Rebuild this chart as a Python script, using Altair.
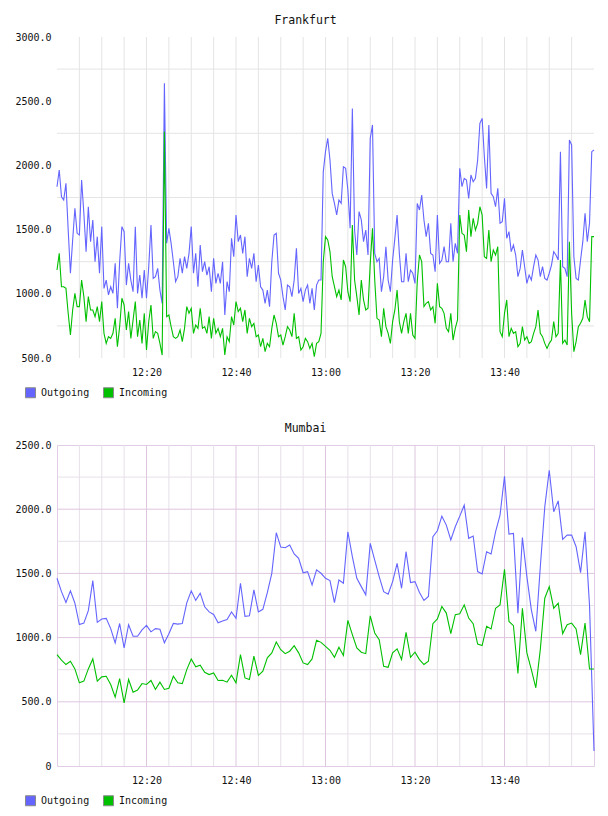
import altair as alt
import pandas as pd

series_names = ["Outgoing", "Incoming"]
series_colors = ["#6464ff", "#00c000"]
panel_titles = ["Frankfurt", "Mumbai"]

# Frankfurt: one sample every 30 s, 12:00 .. 14:00
fra_out = [
    1834, 1964, 1756, 1730, 1860, 1497, 1160, 1419, 1666, 1471,
    1458, 1886, 1627, 1328, 1678, 1406, 1575, 1250, 1445, 1160,
    1523, 1042, 1107, 991, 1055, 1003, 1237, 887, 1250, 1523,
    1484, 1068, 1237, 1107, 1016, 1523, 1003, 1146, 965, 1185,
    965, 1211, 1536, 1120, 1133, 1198, 1029, 926, 2639, 1393,
    1510, 1393, 1250, 1094, 1133, 1276, 1160, 1289, 1198, 1315,
    1523, 1160, 1315, 1055, 1380, 1172, 1250, 1146, 1211, 1016,
    1276, 1081, 1160, 1081, 1250, 835, 1094, 1016, 1432, 1289,
    1614, 1406, 1458, 1315, 1445, 1133, 1276, 1198, 1315, 1094,
    1224, 1055, 1029, 926, 1029, 900, 1250, 1458, 1471, 1160,
    1107, 978, 874, 1068, 1055, 978, 1107, 1354, 1003, 1042,
    939, 1029, 1068, 926, 1042, 874, 1068, 1107, 1107, 1950,
    2107, 2211, 2042, 1782, 1704, 1614, 1730, 1704, 1990, 1977,
    1808, 1510, 2444, 1497, 1302, 1640, 1575, 1406, 1497, 1302,
    2211, 2315, 1315, 1250, 1276, 1016, 1133, 1367, 1107, 1016,
    1263, 1432, 1614, 1315, 1094, 1094, 1315, 1094, 1185, 1160,
    1081, 1704, 1653, 1769, 1575, 1445, 1549, 1315, 1302, 1172,
    1614, 1237, 1263, 1367, 1250, 1250, 1549, 1250, 1393, 1315,
    1977, 1834, 1899, 1886, 1743, 1925, 1873, 1899, 2042, 2328,
    2366, 2068, 1821, 2315, 1782, 1756, 1678, 1821, 1549, 1562,
    1743, 1432, 1484, 1328, 1380, 1302, 1133, 1198, 1341, 1211,
    1081, 1146, 1107, 1211, 1302, 1263, 1133, 1211, 1120, 1107,
    1160, 1224, 1328, 1302, 1263, 2107, 1211, 1198, 1133, 2198,
    2159, 1289, 1120, 1107, 1263, 1406, 1627, 1406, 1549, 2107,
    2120,
]
fra_in = [
    1185, 1315, 1055, 1055, 1042, 848, 679, 874, 1003, 900,
    900, 1107, 978, 783, 978, 874, 874, 822, 900, 783,
    939, 692, 614, 666, 653, 692, 809, 588, 744, 965,
    913, 718, 861, 653, 796, 939, 666, 796, 614, 848,
    562, 783, 913, 653, 705, 692, 614, 523, 2263, 822,
    835, 744, 666, 653, 666, 718, 627, 731, 900, 848,
    887, 692, 757, 731, 887, 731, 744, 692, 822, 653,
    809, 692, 731, 666, 731, 523, 666, 627, 822, 757,
    939, 861, 887, 783, 874, 692, 809, 744, 770, 666,
    679, 588, 653, 549, 614, 588, 731, 835, 770, 666,
    679, 601, 666, 744, 718, 666, 848, 653, 666, 562,
    588, 653, 627, 575, 614, 510, 614, 627, 692, 1250,
    1445, 1419, 1328, 1133, 1055, 978, 1029, 952, 1263, 1211,
    1016, 939, 1536, 1107, 978, 835, 1107, 952, 874, 887,
    1237, 1510, 1107, 809, 796, 666, 887, 744, 692, 614,
    783, 874, 1029, 783, 692, 783, 848, 692, 848, 679,
    653, 1094, 1302, 1250, 900, 926, 939, 874, 900, 770,
    1081, 900, 887, 848, 731, 705, 848, 640, 731, 796,
    1614, 1471, 1458, 1328, 1653, 1445, 1588, 1497, 1549, 1678,
    1614, 1289, 1276, 1497, 1250, 1341, 1302, 1367, 705, 666,
    848, 952, 666, 731, 692, 705, 588, 614, 744, 640,
    666, 614, 627, 692, 744, 874, 692, 666, 614, 575,
    614, 640, 783, 666, 692, 1263, 614, 640, 601, 1406,
    848, 549, 627, 744, 770, 809, 952, 822, 783, 1445,
    1445,
]

# Mumbai: one sample per minute, 12:00 .. 14:00
mum_out = [
    1462, 1358, 1273, 1364, 1268, 1101, 1113, 1210, 1444, 1119,
    1145, 1150, 1070, 958, 1110, 920, 1100, 1010, 1010, 1060,
    1095, 1045, 1070, 1065, 960, 1030, 1110, 1105, 1110, 1270,
    1364, 1290, 1346, 1240, 1200, 1180, 1115, 1130, 1140, 1200,
    1150, 1423, 1165, 1170, 1371, 1200, 1220, 1350, 1500, 1817,
    1705, 1700, 1721, 1651, 1617, 1505,
    1514, 1410, 1527, 1501, 1462, 1444, 1273, 1449, 1423, 1824,
    1630, 1462, 1397, 1333, 1734, 1604, 1475, 1358, 1338, 1436,
    1578, 1384, 1669, 1428, 1436, 1351, 1289, 1320, 1786, 1832,
    1946, 1876, 1760, 1863, 1946, 2031, 1773, 1791, 1514, 1496,
    1669, 1651, 1824, 1954, 2257, 1806, 1811, 1190, 1780, 1475,
    1216, 1049, 1550, 2018, 2303, 1980, 2065, 1765, 1798, 1798,
    1708, 1506, 1824, 1250, 117,
]
mum_in = [
    868, 824, 790, 816, 756, 648, 661, 756, 834, 661,
    694, 699, 635, 536, 681, 492, 674, 575, 591, 642,
    635, 666, 596, 653, 596, 606, 699, 648, 642, 751,
    834, 772, 785, 730, 712, 725, 666, 668, 653, 707,
    648, 868, 686, 674, 855, 705, 738, 842, 881, 966,
    906, 875, 894, 937, 881, 803,
    790, 834, 979, 963, 932, 901, 847, 925, 860, 1134,
    1023, 919, 886, 875, 1170, 1036, 984, 777, 769, 881,
    912, 829, 1041, 847, 886, 829, 790, 816, 1108, 1145,
    1242, 1191, 1031, 1178, 1186, 1255, 1152, 1108, 950, 938,
    1088, 1067, 1229, 1255, 1532, 1126, 1093, 720, 1229, 881,
    751, 609, 906, 1307, 1397, 1229, 1268, 1031, 1101, 1113,
    1067, 868, 1113, 756, 756,
]

x_tick_labels = ["12:20", "12:40", "13:00", "13:20", "13:40"]
fra_y_ticks = [500, 1000, 1500, 2000, 2500, 3000]
fra_y_grid = [750, 1250, 1750, 2250, 2750]
mum_y_ticks = [0, 500, 1000, 1500, 2000, 2500]
mum_y_major_grid = [500, 1000, 1500, 2000]
mum_y_minor_grid = [250, 750, 1250, 1750, 2250]

assert len(fra_out) == 241 and len(fra_in) == 241
assert len(mum_out) == 121 and len(mum_in) == 121

DAY = "2024-01-01"
FONT = "DejaVu Sans Mono"


def iso(ts):
    return ts.strftime("%Y-%m-%dT%H:%M:%SZ")


def series_frame(out_vals, in_vals, step):
    t = pd.date_range(f"{DAY} 12:00:00", periods=len(out_vals), freq=step)
    rows = []
    for name, vals in zip(series_names, [out_vals, in_vals]):
        for ts, v in zip(t, vals):
            rows.append({"time": iso(ts), "value": v, "series": name})
    return pd.DataFrame(rows)


def dt(hhmm):
    h, m = hhmm.split(":")
    return alt.DateTime(year=2024, month=1, date=1, hours=int(h), minutes=int(m), utc=True)


x_scale = alt.Scale(type="utc", domain=[dt("12:00"), dt("14:00")])
x_axis = alt.Axis(values=[dt(l) for l in x_tick_labels], format="%H:%M", title=None,
                  labelPadding=9, labelFlush=False, labelOverlap=False)
five_min = pd.date_range(f"{DAY} 12:05:00", f"{DAY} 13:55:00", freq="5min")
major_times = [f"{DAY}T{lab}:00Z" for lab in x_tick_labels]
all_grid_times = [iso(t) for t in five_min]
minor_times = [t for t in all_grid_times if t not in major_times]

W, H = 537, 321


def panel(title, df, ydom, yticks, hgrid_minor, hgrid_major, vgrid_minor, vgrid_major,
          minor_col, major_col, label_expr, view_stroke):
    y_scale = alt.Scale(domain=ydom, nice=False, zero=False)
    y_axis = alt.Axis(values=yticks, labelExpr=label_expr, title=None,
                      labelPadding=6, labelFlush=False, labelOverlap=False)
    layers = []

    def hrule(vals, col):
        return alt.Chart(pd.DataFrame({"value": vals})).mark_rule(color=col, strokeWidth=1).encode(
            y=alt.Y("value:Q", scale=y_scale, axis=y_axis)
        )

    def vrule(vals, col):
        return alt.Chart(pd.DataFrame({"time": vals})).mark_rule(color=col, strokeWidth=1).encode(
            x=alt.X("time:T", scale=x_scale, axis=x_axis)
        )

    if hgrid_minor:
        layers.append(hrule(hgrid_minor, minor_col))
    if vgrid_minor:
        layers.append(vrule(vgrid_minor, minor_col))
    if hgrid_major:
        layers.append(hrule(hgrid_major, major_col))
    if vgrid_major:
        layers.append(vrule(vgrid_major, major_col))

    lines = alt.Chart(df).mark_line(strokeWidth=1.1, interpolate="linear").encode(
        x=alt.X("time:T", scale=x_scale, axis=x_axis),
        y=alt.Y("value:Q", scale=y_scale, axis=y_axis),
        stroke=alt.Stroke("series:N", scale=alt.Scale(domain=series_names, range=series_colors),
                          legend=None),
        detail="series:N",
    )
    layers.append(lines)

    legend_df = pd.DataFrame({"name": series_names})
    legend_layer = alt.Chart(legend_df).mark_square(size=100, opacity=0).encode(
        fill=alt.Fill("name:N", scale=alt.Scale(domain=series_names, range=series_colors),
                      legend=alt.Legend(
                          title=None, orient="none", legendX=-32, legendY=350,
                          direction="horizontal", symbolType="square", symbolSize=100,
                          symbolStrokeColor="#8a8a8a", symbolStrokeWidth=1, symbolOpacity=1,
                          labelFont=FONT, labelFontSize=10, labelColor="#111",
                          labelOffset=5, columnPadding=11, padding=0)),
    )
    layers.append(legend_layer)

    return alt.layer(*layers).resolve_scale(fill="independent", stroke="independent").properties(
        width=W, height=H,
        title=alt.Title(title, frame="bounds", anchor="middle", font=FONT, fontSize=11.5,
                        fontWeight="normal", color="#111", offset=6),
        view=alt.ViewBackground(stroke=view_stroke, strokeWidth=1),
    )


fra_df = series_frame(fra_out, fra_in, "30s")
mum_df = series_frame(mum_out, mum_in, "60s")

fra = panel(panel_titles[0], fra_df, [500, 3000], fra_y_ticks, fra_y_grid, [],
            all_grid_times, [], "#e4e4e4", "#e4e4e4",
            "format(datum.value, '.1f')", "transparent")
mum = panel(panel_titles[1], mum_df, [0, 2500], mum_y_ticks, mum_y_minor_grid, mum_y_major_grid,
            minor_times, major_times, "#e6e0e8", "#dfc6df",
            "datum.value == 0 ? '0' : format(datum.value, '.1f')", "#e2cde6")

chart = alt.vconcat(fra, mum, spacing=21).properties(
    padding={"left": 14, "top": 14, "right": 0, "bottom": 0},
    background="white",
).configure_axis(
    labelFont=FONT, labelFontSize=10, labelColor="#111", domain=False, ticks=False,
    tickSize=0, grid=False,
)

chart.save("out.html", embed_options={"renderer": "svg", "actions": False})
